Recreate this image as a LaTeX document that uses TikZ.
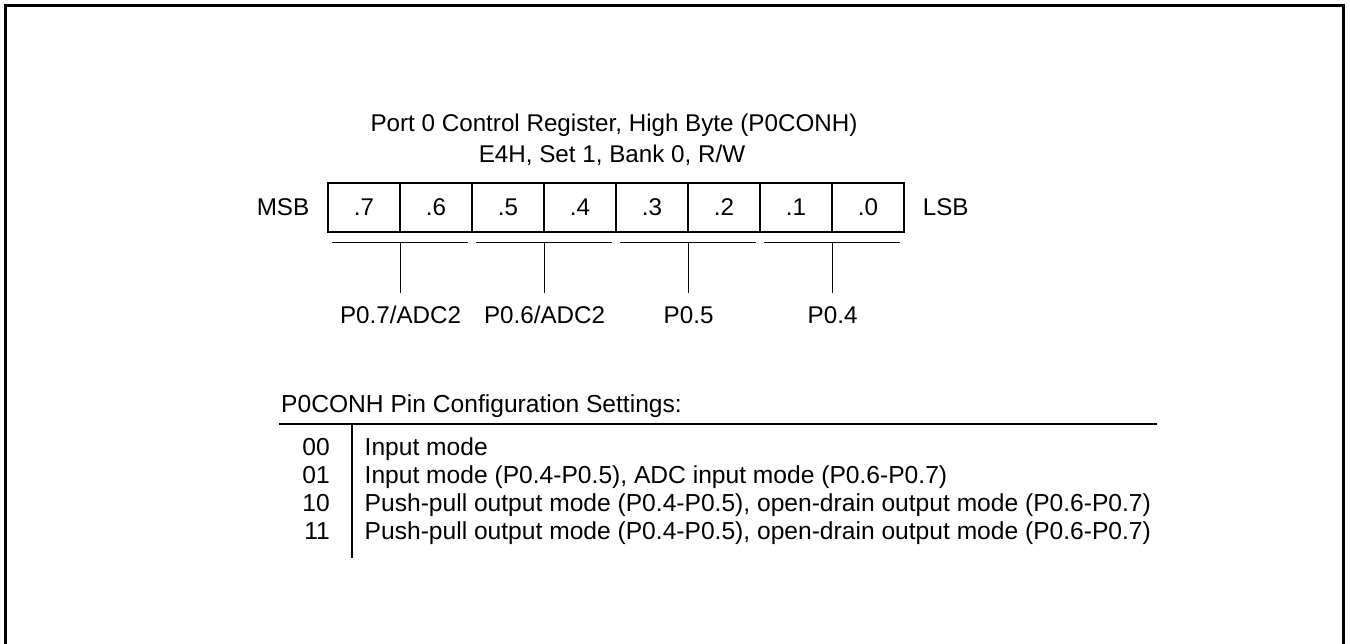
\documentclass[tikz,border=0pt]{standalone}
\usepackage{fontspec}
\setmainfont{Liberation Sans}
\usepackage{tikz}
\usetikzlibrary{positioning}

\begin{document}
\begin{tikzpicture}[
    x=1pt, y=-1pt,
    txt/.style={inner sep=0pt, font=\fontsize{24.2}{30}\selectfont},
    row/.style={txt, font=\fontsize{24.6}{30}\selectfont},
    cell/.style={txt, draw, line width=1.2pt, minimum width=72pt, minimum height=49pt},
    bar/.style={line width=1.2pt},
    frame/.style={line width=3pt}
]
    \useasboundingbox (0,0) rectangle (1350,644);
    \draw[frame] (5.5,644) -- (5.5,6) -- (1343.5,6) -- (1343.5,644);

    % title
    \node[txt, anchor=base] (regtitle) at (614,132) {Port 0 Control Register, High Byte (P0CONH)};
    \node[txt, anchor=base] (regaddr) at (612,163) {E4H, Set 1, Bank 0, R/W};

    % register bits
    \foreach \b [count=\i from 0] in {7,6,5,4,3,2,1,0}
        \node[cell] (cell\b) at (364+72*\i,207.5) {.\b};
    \node[txt, left=18pt of cell7] (msb) {MSB};
    \node[txt, right=18pt of cell0] (lsb) {LSB};

    % pin groups
    \foreach \hi/\lo/\lbl in {7/6/{P0.7/ADC2}, 5/4/{P0.6/ADC2}, 3/2/{P0.5}, 1/0/{P0.4}} {
        \draw[bar] ([xshift=5pt,yshift=-10pt]cell\hi.south west) -- ([xshift=-5pt,yshift=-10pt]cell\lo.south east);
        \coordinate (tap\hi) at ([yshift=-10pt]cell\hi.south east);
        \coordinate (end\hi) at ([yshift=-60pt]cell\hi.south east);
        \draw[bar] (tap\hi) -- (end\hi);
        \path (cell\hi.south east) ++(0,91) node[txt, anchor=base] (pin\hi) {\lbl};
    }

    % settings table
    \node[row, anchor=base west] (sethead) at (281,413) {P0CONH Pin Configuration Settings:};
    \coordinate (ruleL) at (279,424);
    \coordinate (ruleR) at (1157,424);
    \coordinate (colT) at (352,424);
    \coordinate (colB) at (352,558);
    \draw[bar] (ruleL) -- (ruleR);
    \draw[bar] (colT) -- (colB);
    \foreach \code/\desc [count=\r from 0] in {
        00/{Input mode},
        01/{Input mode (P0.4-P0.5), ADC input mode (P0.6-P0.7)},
        10/{Push-pull output mode (P0.4-P0.5), open-drain output mode (P0.6-P0.7)},
        11/{Push-pull output mode (P0.4-P0.5), open-drain output mode (P0.6-P0.7)}} {
        \node[row, anchor=base east] (code\r) at (330,455+28*\r) {\code};
        \node[row, anchor=base west] (desc\r) at (364.5,455+28*\r) {\desc};
    }
\end{tikzpicture}
\end{document}
